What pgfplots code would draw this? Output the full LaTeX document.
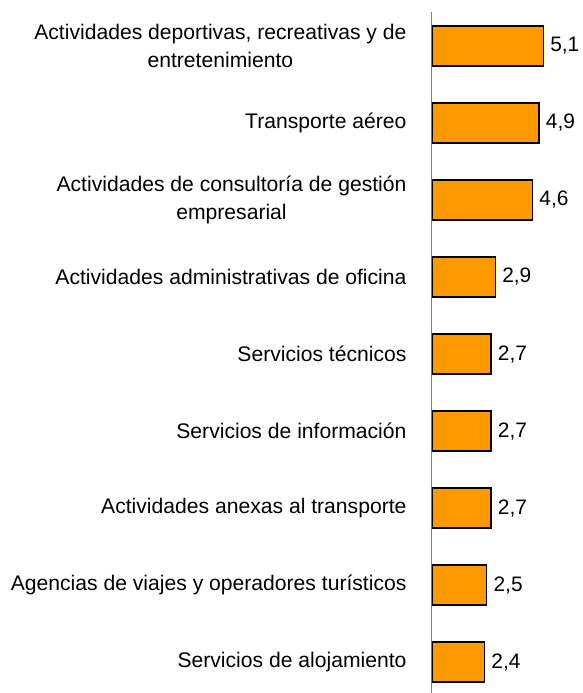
\documentclass[border=0pt]{standalone}
\usepackage{fontspec}
\setmainfont{Liberation Sans}
\usepackage{pgfplots}
\pgfplotsset{compat=1.18}
\definecolor{barorange}{HTML}{FF9900}
\definecolor{axisgray}{HTML}{808080}

\begin{document}
\begin{tikzpicture}[x=1bp,y=1bp]
\begin{axis}[
    scale only axis,
    width=144bp, height=681bp,
    xbar, bar width=40bp,
    xmin=0, xmax=6.6,
    ymin=-0.44, ymax=8.4,
    y dir=reverse,
    axis x line=none,
    axis y line*=left,
    y axis line style={axisgray, line width=1pt, -},
    ytick={0,...,8},
    major tick length=0pt,
    yticklabels={
        {Actividades deportivas, recreativas y de\\entretenimiento},
        {Transporte aéreo},
        {Actividades de consultoría de gestión\\empresarial},
        {Actividades administrativas de oficina},
        {Servicios técnicos},
        {Servicios de información},
        {Actividades anexas al transporte},
        {Agencias de viajes y operadores turísticos},
        {Servicios de alojamiento}},
    yticklabel style={align=center, font=\fontsize{21.2}{28}\selectfont, xshift=-22bp},
    nodes near coords,
    nodes near coords style={font=\fontsize{21}{24}\selectfont, black, xshift=3bp},
    /pgf/number format/.cd, use comma, fixed, fixed zerofill, precision=1, assume math mode=true,
]
\addplot[fill=barorange, draw=black, line width=1.4pt]
    coordinates {(5.1,0) (4.9,1) (4.6,2) (2.9,3) (2.7,4) (2.7,5) (2.7,6) (2.5,7) (2.4,8)};
\end{axis}
\pgfresetboundingbox
\useasboundingbox ([xshift=-432bp,yshift=12bp]current axis.north west) rectangle ([xshift=7bp,yshift=-681bp]current axis.north east);
\end{tikzpicture}
\end{document}
